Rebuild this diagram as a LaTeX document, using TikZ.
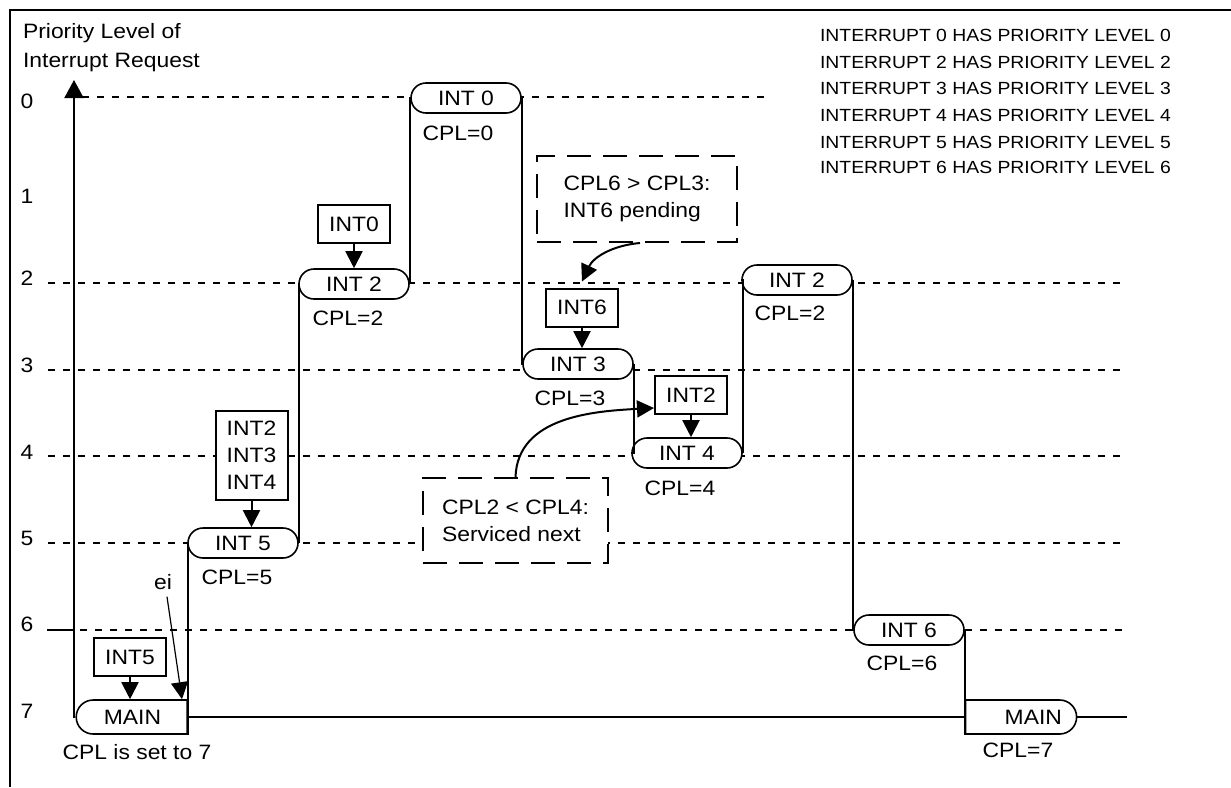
\documentclass[tikz,border=0pt]{standalone}
\usepackage{fontspec}
\setmainfont{Liberation Sans}[FakeStretch=1.1]
\usetikzlibrary{arrows.meta,shapes.misc}

\begin{document}
\begin{tikzpicture}[x=0.5pt,y=-0.5pt,
    font=\fontsize{10.4}{13.4}\selectfont,
    nivel/.style={rounded rectangle, draw, fill=white, line width=0.8pt,
        minimum width=55pt, minimum height=15pt, inner sep=0pt},
    principal/.style={nivel, minimum width=55.5pt, minimum height=17pt},
    peticion/.style={draw, fill=white, line width=1pt, minimum width=36pt,
        minimum height=19pt, inner sep=2pt},
    nota/.style={draw, fill=white, line width=1pt, dash pattern=on 12pt off 6pt,
        align=left},
    guia/.style={line width=1pt, dash pattern=on 3.5pt off 4pt},
    traza/.style={line width=1pt},
    flecha/.style={line width=1pt, -{Triangle[length=8.5pt,width=8.5pt]}},
    leyenda/.style={anchor=west, font=\fontsize{8.8}{10}\selectfont}]

    \useasboundingbox (0,0) rectangle (1231,787);

    % Marco
    \draw[line width=1.2pt] (10,787) -- (10,10) -- (1231,10);

    % Niveles de prioridad (lineas guia)
    \draw[guia] (82,97) -- (765,97);
    \foreach \y in {283,370,456,543}
        \draw[guia] (48,\y) -- (1127,\y);
    \draw[guia] (80,630) -- (1127,630);
    \draw[traza] (47,630) -- (74,630);

    % Numeros de nivel
    \foreach \n/\y in {0/101,1/196,2/278,3/365,4/452,5/538,6/624,7/711}
        \node (lv\n) at (27,\y) {\n};

    % Titulo del eje
    \node[anchor=north west, align=left, font=\fontsize{10.4}{14.5}\selectfont]
        (ejey) at (16,16) {Priority Level of\\Interrupt Request};

    % Subrutinas en cada nivel
    \coordinate (ytip) at (74,80);
    \coordinate (fin) at (1127,717);
    \node[principal, rounded rectangle right arc=none] (mainA) at (132.5,717) {MAIN};
    \node[nivel] (int5) at (243,543) {INT 5};
    \node[nivel] (int2a) at (354,284) {INT 2};
    \node[nivel] (int0) at (466,98) {INT 0};
    \node[nivel] (int3) at (578,364) {INT 3};
    \node[nivel] (int4) at (687,453) {INT 4};
    \node[nivel] (int2b) at (797,280) {INT 2};
    \node[nivel] (int6) at (909,630) {INT 6};
    \node[principal, rounded rectangle left arc=none, anchor=west]
        (mainB) at (int6.east |- fin) {\hspace*{13pt}MAIN};

    % Traza de ejecucion
    \draw[traza, -{Triangle[length=9pt,width=9.5pt]}] (mainA.west) -| (ytip);
    \draw[traza] (mainA.south east) |- (int5.west);
    \draw[traza] (int5.east) |- (int2a.west);
    \draw[traza] (int2a.east) |- (int0.west);
    \draw[traza] (int0.east) |- (int3.west);
    \draw[traza] (int3.east) |- (int4.west);
    \draw[traza] (int4.east) |- (int2b.west);
    \draw[traza] (int2b.east) |- (int6.west);
    \draw[traza] (int6.east) |- (mainB.south west);
    \draw[traza] (mainA.east) -- (mainB.west);
    \draw[traza] (mainB.east) -- (fin);

    % Valores de CPL
    \node (cplA) at (137,752) {CPL is set to 7};
    \node (cpl5) at (237,577) {CPL=5};
    \node (cpl2a) at (348,318) {CPL=2};
    \node (cpl0) at (458,133) {CPL=0};
    \node (cpl3) at (570,398) {CPL=3};
    \node (cpl4) at (680,488) {CPL=4};
    \node (cpl2b) at (790,313) {CPL=2};
    \node (cpl6) at (902,663) {CPL=6};
    \node (cplB) at (1018,750) {CPL=7};

    % Peticiones de interrupcion
    \node[peticion] (rq5) at (130,657) {INT5};
    \node[peticion, align=center, minimum height=44.5pt] (rq234) at (251.5,455.5) {INT2\\INT3\\INT4};
    \node[peticion] (rq0) at (354,224) {INT0};
    \node[peticion] (rq6) at (582,307.5) {INT6};
    \node[peticion] (rq2) at (691,395) {INT2};
    \foreach \r/\d in {rq5/mainA, rq234/int5, rq0/int2a, rq6/int3, rq2/int4}
        \draw[flecha] (\r.south) -- (\r.south |- \d.north);

    % ei
    \node (ei) at (163,582) {ei};
    \draw[flecha, line width=0.6pt] ([xshift=2pt]ei.south) -- ([xshift=-3pt]mainA.north east);

    % Notas
    \node[nota, minimum width=100pt, minimum height=43pt] (nota6) at (637,199)
        {CPL6 > CPL3:\\INT6 pending};
    \node[nota, minimum width=92.5pt, minimum height=42.5pt] (nota4) at (515.5,520.5)
        {CPL2 < CPL4:\\Serviced next};
    \draw[flecha] ([xshift=1.5pt]nota6.south) to[out=185, in=65] ([yshift=3pt]rq6.north);
    \draw[flecha] (nota4.north) to[out=88, in=183] ([yshift=-6.5pt]rq2.west);

    % Leyenda
    \foreach \k/\y in {0/35,2/62,3/88,4/115,5/142,6/167}
        \node[leyenda] (ley\k) at (813,\y) {INTERRUPT \k\ HAS PRIORITY LEVEL \k};
\end{tikzpicture}
\end{document}
